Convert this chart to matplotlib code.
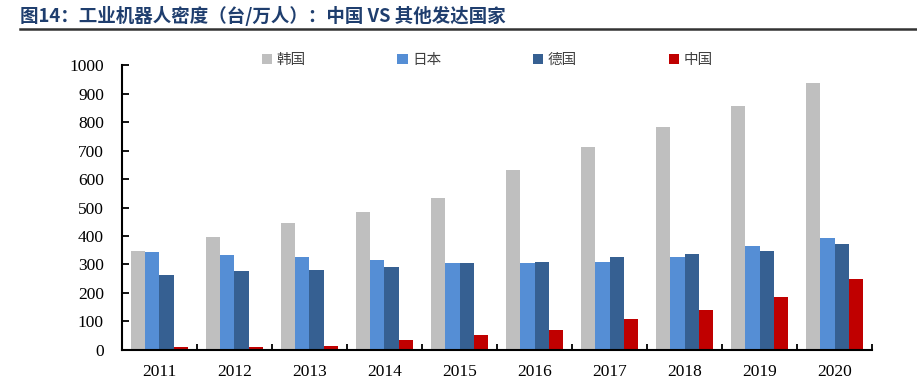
import numpy as np
import matplotlib
matplotlib.use('Agg')
import matplotlib.pyplot as plt
from matplotlib.lines import Line2D

plt.rcParams['font.family'] = ['Liberation Serif', 'Noto Sans CJK SC', 'DejaVu Sans']

years = ['2011', '2012', '2013', '2014', '2015', '2016', '2017', '2018', '2019', '2020']
korea = [347, 398, 444, 483, 533, 633, 712, 781, 858, 937]
japan = [343, 332, 327, 316, 305, 305, 310, 327, 366, 394]
germany = [264, 277, 282, 292, 305, 309, 326, 338, 349, 373]
china = [11, 11, 13, 35, 51, 71, 107, 141, 187, 249]

series = [('韩国', korea, '#BFBFBF'),
          ('日本', japan, '#558ED5'),
          ('德国', germany, '#366092'),
          ('中国', china, '#C00000')]

fig = plt.figure(figsize=(9.17, 3.85), dpi=100)
ax = fig.add_axes([0.133, 0.091, 0.818, 0.740])

x = np.arange(len(years))
w = 0.19
for i, (name, vals, col) in enumerate(series):
    ax.bar(x + (i - 1.5) * w, vals, w, color=col, label=name, zorder=2)

ax.set_xlim(-0.5, len(years) - 0.5)
ax.set_ylim(0, 1000)
ax.set_yticks(np.arange(0, 1001, 100))
ax.set_yticklabels([str(v) for v in range(0, 1001, 100)], fontfamily='Liberation Serif', fontsize=12.5)
ax.set_xticks(x)
ax.set_xticklabels(years, fontfamily='Liberation Serif', fontsize=12.5)
ax.set_xticks(np.arange(-0.5, len(years)), minor=True)
ax.tick_params(axis='x', which='major', length=0, pad=10)
ax.tick_params(axis='x', which='minor', direction='in', length=4, width=1.3)
ax.tick_params(axis='y', direction='in', length=5, width=1.3, pad=13)

for s in ['top', 'right']:
    ax.spines[s].set_visible(False)
for s in ['left', 'bottom']:
    ax.spines[s].set_linewidth(1.5)

leg = ax.legend(loc='center', bbox_to_anchor=(0.487, 1.018), ncol=4, frameon=False,
                prop={'family': 'Noto Sans CJK SC', 'size': 10.5},
                handlelength=0.7, handleheight=0.7, handletextpad=0.3,
                columnspacing=6.3)
for t in leg.get_texts():
    t.set_color('#404040')

fig.text(0.022, 0.958, '图14：工业机器人密度（台/万人）：中国 VS 其他发达国家',
         fontsize=13.3, fontweight='bold', color='#1F3E6E', va='center', ha='left',
         family='Noto Sans CJK SC')
fig.add_artist(Line2D([0.022, 1.0], [0.925, 0.925], color='#333333', lw=1.8,
                      transform=fig.transFigure))

plt.savefig('out.png', dpi=100)
